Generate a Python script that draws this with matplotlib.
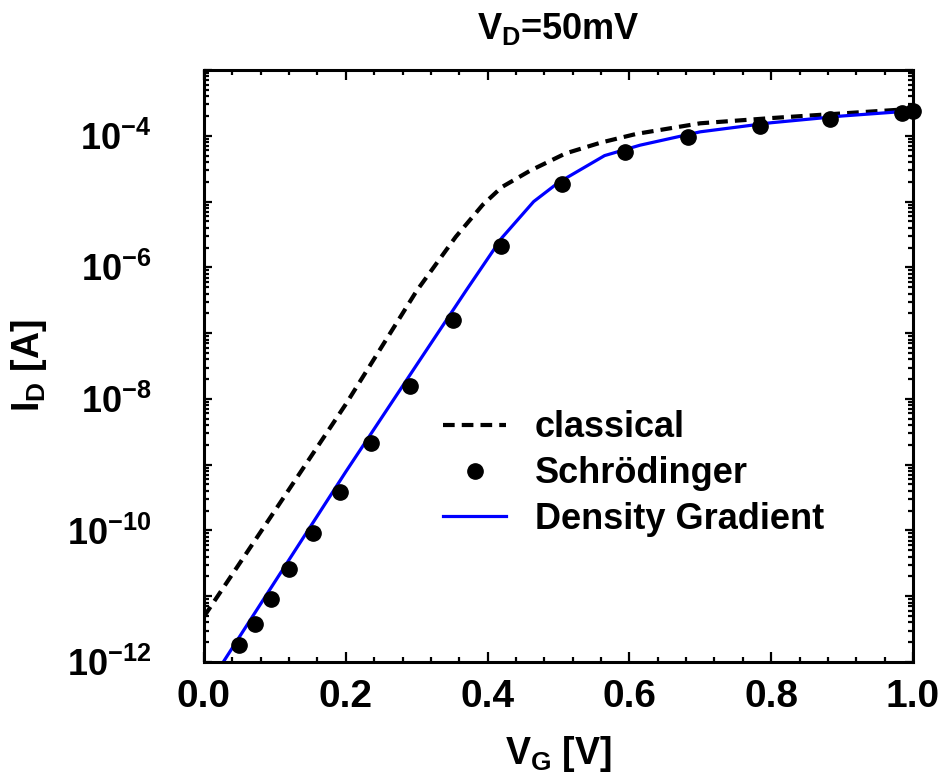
import matplotlib
matplotlib.use("Agg")
import matplotlib.pyplot as plt
import numpy as np
from matplotlib.legend_handler import HandlerLine2D
from matplotlib.ticker import LogLocator, MultipleLocator, FormatStrFormatter, NullFormatter

plt.rcParams['font.family'] = ['Liberation Sans', 'DejaVu Sans']
plt.rcParams['font.weight'] = 'bold'
plt.rcParams['mathtext.fontset'] = 'custom'
plt.rcParams['mathtext.rm'] = 'Liberation Sans:bold'
plt.rcParams['mathtext.bf'] = 'Liberation Sans:bold'
plt.rcParams['mathtext.it'] = 'Liberation Sans:bold'

# classical drift-diffusion
vg_classical = [0.0, 0.1, 0.2, 0.3, 0.355, 0.393, 0.42, 0.46, 0.51, 0.56, 0.61, 0.7, 0.8, 0.9, 1.0]
id_classical = [4.9e-12, 2.0e-10, 8.3e-9, 4.4e-7, 2.9e-6, 8.9e-6, 1.66e-5, 2.95e-5,
                5.4e-5, 7.9e-5, 1.07e-4, 1.55e-4, 1.86e-4, 2.19e-4, 2.57e-4]

# Schrodinger-Poisson points
vg_schr = [0.050, 0.072, 0.094, 0.120, 0.154, 0.192, 0.236, 0.290, 0.351,
           0.419, 0.505, 0.594, 0.683, 0.784, 0.883, 0.984, 1.000]
id_schr = [1.84e-12, 3.75e-12, 9.0e-12, 2.6e-11, 9.0e-11, 3.85e-10, 2.1e-9, 1.58e-8,
           1.61e-7, 2.1e-6, 1.85e-5, 5.6e-5, 9.7e-5, 1.41e-4, 1.80e-4, 2.24e-4, 2.40e-4]

# density gradient model
vg_dg = [0.0, 0.1, 0.2, 0.3, 0.37, 0.42, 0.465, 0.5, 0.565, 0.615, 0.7, 0.8, 0.9, 1.0]
id_dg = [3.5e-13, 1.66e-11, 7.8e-10, 3.3e-8, 4.5e-7, 2.8e-6, 1.0e-5, 1.95e-5,
         5.0e-5, 7.2e-5, 1.15e-4, 1.58e-4, 2.0e-4, 2.4e-4]

y_decades = list(range(-12, -2))
y_labeled = [-12, -10, -8, -6, -4]


class EndMarkerHandler(HandlerLine2D):
    # put the single legend marker near the right end of the handle
    def get_xdata(self, legend, xdescent, ydescent, width, height, fontsize):
        xdata, _ = super().get_xdata(legend, xdescent, ydescent, width, height, fontsize)
        return xdata, [-xdescent + 0.88 * width]


fig = plt.figure(figsize=(9.47, 7.79), dpi=100)
ax = fig.add_axes([0.2154, 0.1502, 0.7487, 0.7599])

ax.plot(vg_classical, id_classical, color='black', lw=3.0,
        linestyle=(0, (2.8, 1.7)), dash_capstyle='butt', label='classical')
ax.plot(vg_schr, id_schr, 'o', color='black', ms=11, clip_on=False,
        zorder=3, label='Schrödinger')
ax.plot(vg_dg, id_dg, color='#0000ff', lw=2.3, label='Density Gradient')

ax.set_yscale('log')
ax.set_xlim(0, 1.0)
ax.set_ylim(1e-12, 1e-3)

ax.xaxis.set_major_locator(MultipleLocator(0.2))
ax.xaxis.set_minor_locator(MultipleLocator(0.04))
ax.xaxis.set_major_formatter(FormatStrFormatter('%.1f'))

ax.yaxis.set_minor_locator(LogLocator(base=10, subs=np.arange(2, 10), numticks=20))
ax.yaxis.set_minor_formatter(NullFormatter())
ax.set_yticks([10.0 ** k for k in y_decades])
ax.set_yticklabels([r'$10^{%d}$' % k if k in y_labeled else '' for k in y_decades])

ax.tick_params(which='both', direction='in', top=True, right=True, width=1.6)
ax.tick_params(which='major', length=7, labelsize=28, pad=12)
ax.tick_params(axis='y', which='major', length=6, labelsize=26, pad=38)
ax.tick_params(which='minor', length=3.6)
for sp in ax.spines.values():
    sp.set_linewidth(2.2)

ax.set_xlabel(r'$V_G$ [V]', fontsize=27, fontweight='bold', labelpad=14)
ax.set_ylabel(r'$I_D$ [A]', fontsize=27, fontweight='bold')
ax.yaxis.set_label_coords(-0.218, 0.5)
ax.set_title(r'$V_D$=50mV', fontsize=26, fontweight='bold', pad=22)

leg = ax.legend(loc='upper left', bbox_to_anchor=(0.337, 0.425), frameon=False,
                fontsize=26, handlelength=1.75, handletextpad=0.8, labelspacing=0.3,
                borderaxespad=0, borderpad=0, numpoints=1,
                handler_map={plt.Line2D: EndMarkerHandler()})

fig.savefig('out.png', dpi=100)
